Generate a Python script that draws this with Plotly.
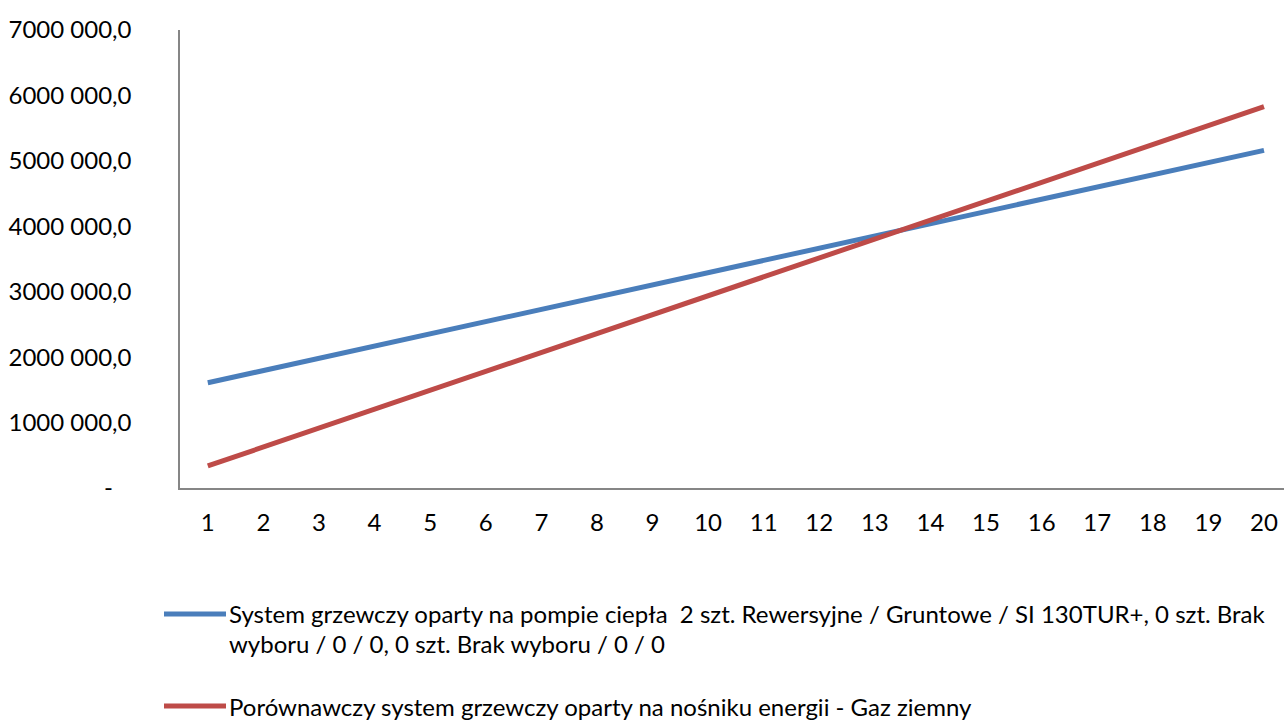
import plotly.graph_objects as go

years = list(range(1, 21))
heat_pump = [1608000, 1795000, 1982000, 2169000, 2356000, 2543000, 2730000, 2917000, 3104000, 3291000,
             3478000, 3665000, 3852000, 4039000, 4226000, 4413000, 4600000, 4787000, 4974000, 5161000]
gas = [337000, 626000, 915000, 1204000, 1493000, 1782000, 2071000, 2360000, 2649000, 2938000,
       3227000, 3516000, 3805000, 4094000, 4383000, 4672000, 4961000, 5250000, 5539000, 5828000]
y_ticks = [0, 1000000, 2000000, 3000000, 4000000, 5000000, 6000000, 7000000]
y_labels = ["-\u00a0\u00a0\u00a0", "1000 000,0", "2000 000,0", "3000 000,0", "4000 000,0",
            "5000 000,0", "6000 000,0", "7000 000,0"]
legend_lines = [
    ["System grzewczy oparty na pompie ciepła  2 szt. Rewersyjne / Gruntowe / SI 130TUR+, 0 szt. Brak",
     "wyboru / 0 / 0, 0 szt. Brak wyboru / 0 / 0"],
    ["Porównawczy system grzewczy oparty na nośniku energii - Gaz ziemny"],
]
colors = ["#4A7EBB", "#BE4B48"]

FONT = "Lato, Open Sans, sans-serif"
FS = 24

fig = go.Figure()
for vals, lines, col in zip([heat_pump, gas], legend_lines, colors):
    fig.add_trace(go.Scatter(x=years, y=vals, mode="lines", name=" ".join(lines),
                             line=dict(color=col, width=5), showlegend=False))

PLOT_TOP, PLOT_BOTTOM, PLOT_LEFT, PLOT_RIGHT = 30, 488, 180, 1284
PH = PLOT_BOTTOM - PLOT_TOP
PW = PLOT_RIGHT - PLOT_LEFT

fig.update_layout(
    width=1284, height=720,
    margin=dict(l=PLOT_LEFT, r=1284 - PLOT_RIGHT, t=PLOT_TOP, b=720 - PLOT_BOTTOM),
    paper_bgcolor="white", plot_bgcolor="white",
    font=dict(family=FONT, size=FS, color="#000000"),
    xaxis=dict(range=[0.5, 20.36], tickvals=years, ticktext=[str(y) for y in years],
               showgrid=False, zeroline=False, showline=True, linecolor="#868686", linewidth=1.5,
               ticks="", ticklabelstandoff=12, tickfont=dict(size=FS)),
    yaxis=dict(range=[0, 7000000], tickvals=y_ticks, ticktext=y_labels,
               showgrid=False, zeroline=False, showline=True, linecolor="#868686", linewidth=1.5,
               ticks="", ticklabelstandoff=42, tickfont=dict(size=FS)),
)


def px(x):
    return (x - PLOT_LEFT) / PW


def py(y):
    return (PLOT_BOTTOM - y) / PH


# Manual legend (line sample + text)
legend_rows = [[614, 643], [706]]
for lines, col, rows in zip(legend_lines, colors, legend_rows):
    fig.add_shape(type="line", xref="paper", yref="paper",
                  x0=px(164), x1=px(226), y0=py(rows[0]), y1=py(rows[0]),
                  line=dict(color=col, width=5))
    for txt, ry in zip(lines, rows):
        fig.add_annotation(xref="paper", yref="paper", x=px(227), y=py(ry),
                           xanchor="left", yanchor="middle", text=txt, showarrow=False,
                           align="left", font=dict(family=FONT, size=FS, color="#000000"))

fig.write_html("out.html")
